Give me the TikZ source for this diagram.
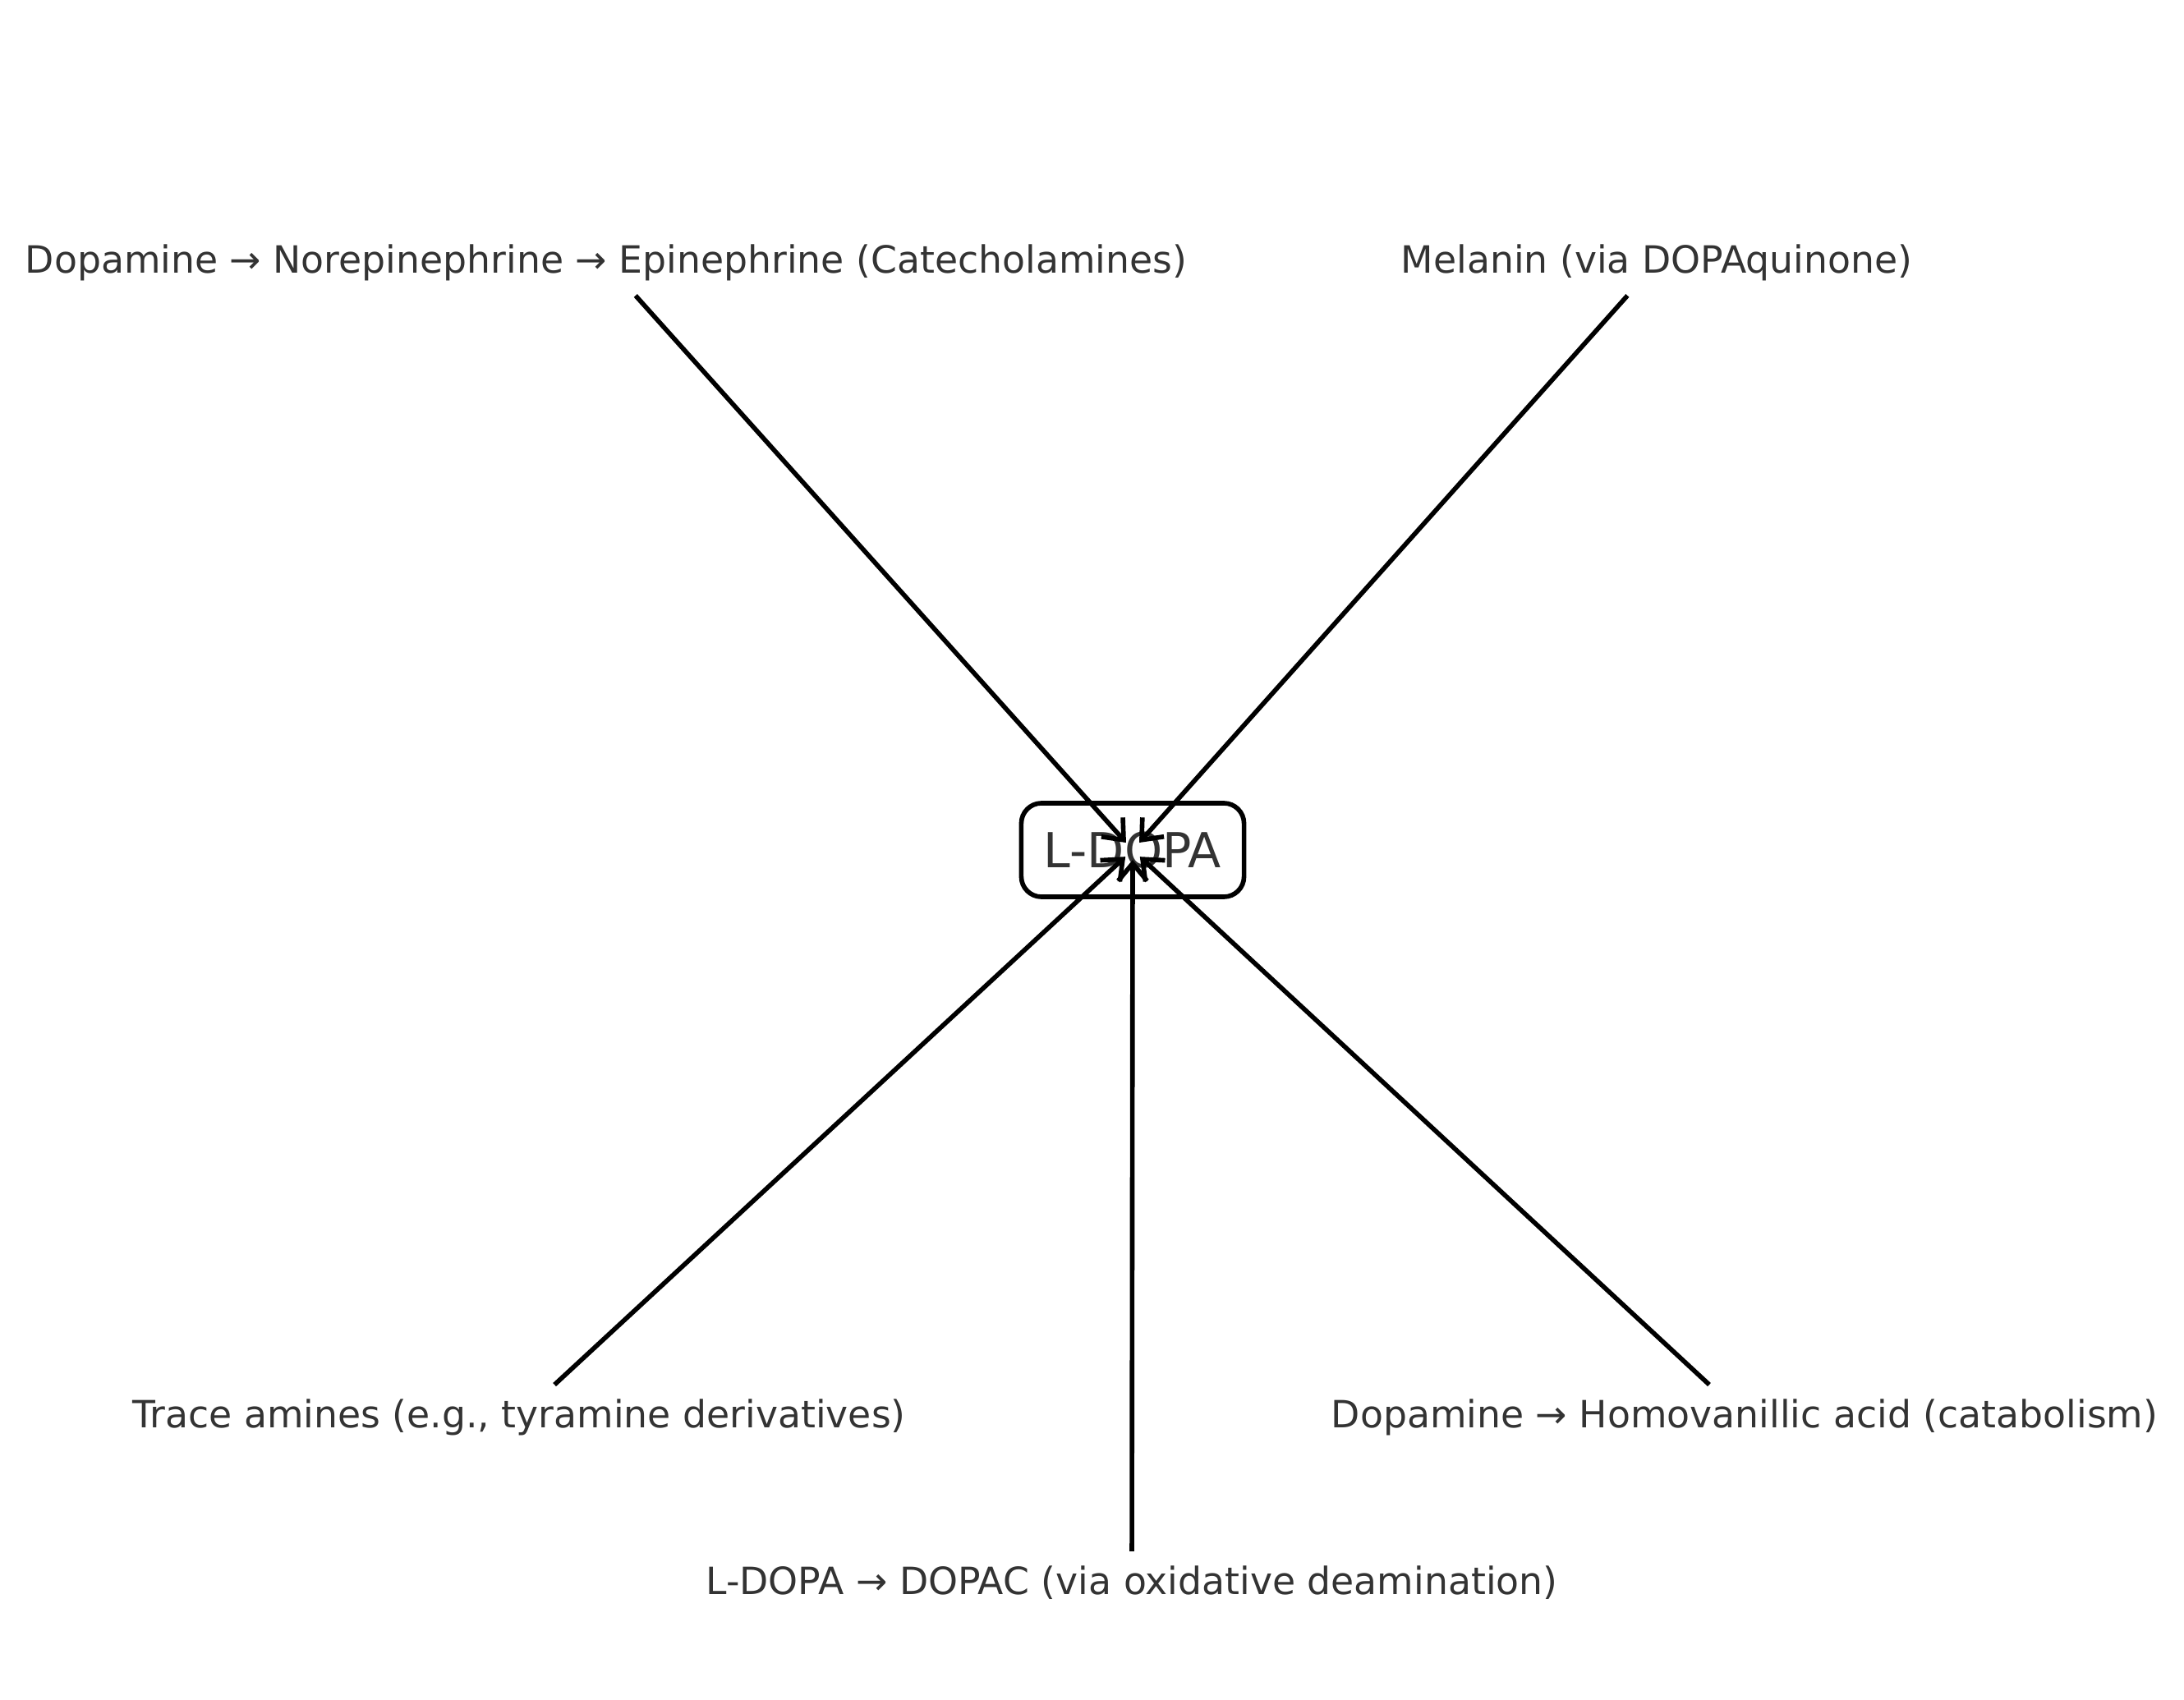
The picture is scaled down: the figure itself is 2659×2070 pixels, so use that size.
\documentclass[tikz,border=0pt]{standalone}
\usepackage{fontspec}
\setmainfont{DejaVu Sans}
\usetikzlibrary{arrows.meta}
\definecolor{labelgray}{HTML}{333333}
\begin{document}
\begin{tikzpicture}[x=0.01cm, y=-0.01cm, line width=1.6pt,
    main node/.style={draw, rounded corners=7pt, text=labelgray, font=\fontsize{16.7}{20}\selectfont, minimum width=2.71cm, minimum height=1.14cm},
    side node/.style={text=labelgray, font=\fontsize{13}{15}\selectfont, inner xsep=2pt, inner ysep=0.15cm},
    pathway/.style={-{Straight Barb[length=6pt,width=10pt]}, shorten >=0.12cm}]
    \useasboundingbox (0,0) rectangle (2659,2070);

    \node[main node] at (1379, 1035) (ldopa) {L-DOPA};

    \node[side node] at (738, 320) (cat) {Dopamine → Norepinephrine → Epinephrine (Catecholamines)};
    \node[side node] at (2017, 320) (mel) {Melanin (via DOPAquinone)};
    \node[side node] at (632, 1726) (trace) {Trace amines (e.g., tyramine derivatives)};
    \node[side node] at (2124, 1726) (hva) {Dopamine → Homovanillic acid (catabolism)};
    \node[side node] at (1378, 1927) (dopac) {L-DOPA → DOPAC (via oxidative deamination)};

    \path[pathway] (cat) edge (ldopa.center);
    \path[pathway] (mel) edge (ldopa.center);
    \path[pathway] (trace) edge (ldopa.center);
    \path[pathway] (hva) edge (ldopa.center);
    \path[pathway] (dopac) edge (ldopa.center);
\end{tikzpicture}
\end{document}
